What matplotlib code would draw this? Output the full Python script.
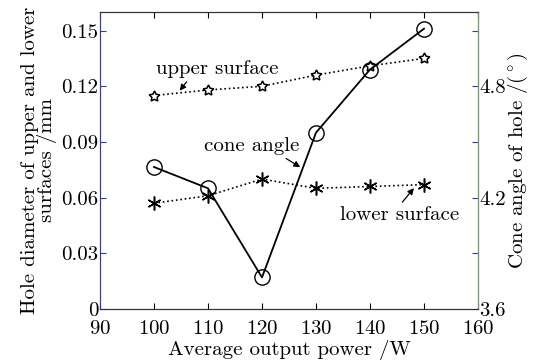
import matplotlib
matplotlib.use("Agg")
import matplotlib.pyplot as plt

plt.rcParams["font.family"] = ["cmr10", "DejaVu Serif"]
plt.rcParams["axes.formatter.use_mathtext"] = True
plt.rcParams["mathtext.fontset"] = "cm"

power = [100, 110, 120, 130, 140, 150]
upper = [0.115, 0.118, 0.120, 0.126, 0.131, 0.135]
lower = [0.057, 0.061, 0.070, 0.065, 0.066, 0.067]
cone = [4.365, 4.25, 3.77, 4.55, 4.89, 5.11]

fig = plt.figure(figsize=(5.42, 3.64), dpi=100)
ax = fig.add_axes([100 / 542, 1 - 309 / 364, 378 / 542, 297 / 364])
ax2 = ax.twinx()

ax.plot(power, upper, ":", color="black", lw=1.2, marker=(5, 1, 0), ms=8,
        mfc="white", mec="black", mew=1.1)
ax.plot(power, lower, ":", color="black", lw=1.2, marker=(6, 2, 0), ms=10,
        mec="black", mew=1.1)
ax2.plot(power, cone, "-", color="black", lw=1.3, marker="o", ms=11,
         mfc="none", mec="black", mew=1.0)

ax.set_xlim(90, 160)
ax.set_ylim(0, 0.16)
ax2.set_ylim(3.6, 5.2)
ax.set_xticks(range(90, 161, 10))
ax.set_yticks([0, 0.03, 0.06, 0.09, 0.12, 0.15])
ax.set_yticklabels(["0", "0.03", "0.06", "0.09", "0.12", "0.15"])
ax2.set_yticks([3.6, 3.9, 4.2, 4.5, 4.8, 5.1])
ax2.set_yticklabels(["3.6", "", "4.2", "", "4.8", ""])

fs = 15
for a in (ax, ax2):
    a.tick_params(direction="in", labelsize=fs, length=4, pad=1)
ax.tick_params(axis="x", top=True, pad=8)
ax.tick_params(axis="y", colors="#3a3a9a", labelcolor="black")
ax2.tick_params(axis="y", colors="#3a3a9a", labelcolor="black", pad=1)
ax.spines["left"].set_color("#3a3a9a")
ax2.spines["left"].set_color("#3a3a9a")
ax2.spines["right"].set_color("#7a9a7a")
for s in ("top", "bottom"):
    ax.spines[s].set_color("#333333")
    ax2.spines[s].set_color("#333333")

ax.set_xlabel("Average output power /W", fontsize=fs, labelpad=1)
ax.set_ylabel("Hole diameter of upper and lower\nsurfaces /mm", fontsize=fs,
              labelpad=3, linespacing=0.9)
ax2.set_ylabel(r"Cone angle of hole /($^\circ$)", fontsize=fs, labelpad=0)

def arrow(rel):
    return dict(arrowstyle="-|>", color="black", lw=0.9, mutation_scale=9,
                relpos=rel, shrinkA=1, shrinkB=1)

ax.annotate("upper surface", xy=(104.6, 0.117), xytext=(111.8, 0.1244),
            fontsize=fs, ha="center", va="bottom", arrowprops=arrow((0.27, 0)))
ax.annotate("cone angle", xy=(127.3, 0.076), xytext=(118.1, 0.083),
            fontsize=fs, ha="center", va="bottom", arrowprops=arrow((0.8, 0)))
ax.annotate("lower surface", xy=(148.3, 0.0657), xytext=(145.4, 0.0555),
            fontsize=fs, ha="center", va="top", arrowprops=arrow((0.5, 1)))

fig.savefig("out.png", dpi=100)
